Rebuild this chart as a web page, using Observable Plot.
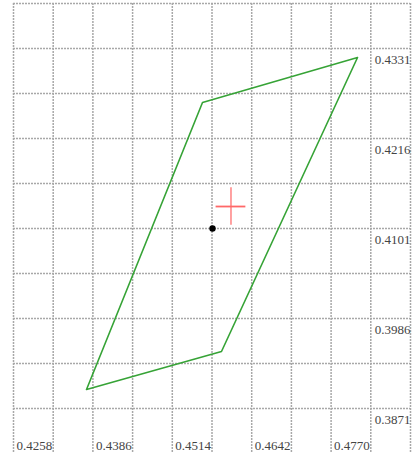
<!DOCTYPE html>
<html>
<head>
<meta charset="utf-8">
<script src="https://cdn.jsdelivr.net/npm/d3@7"></script>
<script src="https://cdn.jsdelivr.net/npm/@observablehq/plot@0.6"></script>
<style>
  html, body { margin: 0; padding: 0; background: #fff; }
  #chart svg { display: block; }
  #chart svg text { font-family: "Liberation Serif", "DejaVu Serif", serif !important; }
</style>
</head>
<body>
<div id="chart"></div>
<script>
// Polygon (closed ring) vertices
const polyX = [0.43757, 0.45933, 0.48126, 0.45627, 0.43757];
const polyY = [0.38953, 0.39438, 0.43195, 0.42620, 0.38953];
// Black point
const pointX = [0.45788];
const pointY = [0.41010];
// Red cross (center ± error)
const crossX = [0.46086];
const crossY = [0.41291];
const crossErrX = [0.0024];
const crossErrY = [0.0024];
// Grid and tick labels
const xGrid = [0.4258, 0.4322, 0.4386, 0.4450, 0.4514, 0.4578, 0.4642, 0.4706, 0.4770, 0.4834, 0.4898];
const yGrid = [0.38135, 0.3871, 0.39285, 0.3986, 0.40435, 0.4101, 0.41585, 0.4216, 0.42735, 0.4331, 0.43885];
const xTickValues = [0.4258, 0.4386, 0.4514, 0.4642, 0.4770];
const xTickLabels = ["0.4258", "0.4386", "0.4514", "0.4642", "0.4770"];
const yTickValues = [0.3871, 0.3986, 0.4101, 0.4216, 0.4331];
const yTickLabels = ["0.3871", "0.3986", "0.4101", "0.4216", "0.4331"];

const poly = polyX.map((x, i) => ({x, y: polyY[i]}));
const pts = pointX.map((x, i) => ({x, y: pointY[i]}));
const cross = crossX.map((x, i) => ({x, y: crossY[i], ex: crossErrX[i], ey: crossErrY[i]}));
const xt = xTickValues.map((v, i) => ({v, label: xTickLabels[i]}));
const yt = yTickValues.map((v, i) => ({v, label: yTickLabels[i]}));

const gridStyle = {stroke: "#a8a8a8", strokeWidth: 1.5, strokeDasharray: "2,1"};
const serif = "Liberation Serif";

const chart = Plot.plot({
  width: 413,
  height: 452,
  marginLeft: 13,
  marginRight: 3,
  marginTop: 3,
  marginBottom: 0,
  style: {fontFamily: "'Liberation Serif', 'DejaVu Serif', serif", background: "#fff"},
  x: {domain: [0.4258, 0.4898], axis: null},
  y: {domain: [0.381478, 0.43885], axis: null},
  marks: [
    Plot.ruleX(xGrid, {...gridStyle}),
    Plot.ruleY(yGrid, {...gridStyle}),
    Plot.text(xt, {x: "v", text: "label", frameAnchor: "bottom", textAnchor: "start", lineAnchor: "bottom", dx: 3, dy: -3, fontSize: 13, fontFamily: serif, fill: "#444"}),
    Plot.text(yt, {y: "v", text: "label", frameAnchor: "right", textAnchor: "end", dx: 0, dy: 11, fontSize: 13, fontFamily: serif, fill: "#444"}),
    Plot.line(poly, {x: "x", y: "y", stroke: "#36a336", strokeWidth: 1.6}),
    Plot.ruleY(cross, {y: "y", x1: d => d.x - d.ex, x2: d => d.x + d.ex, stroke: "#ff4d4d", strokeWidth: 1.8, strokeOpacity: 0.85}),
    Plot.ruleX(cross, {x: "x", y1: d => d.y - d.ey, y2: d => d.y + d.ey, stroke: "#ff6b6b", strokeWidth: 1.8, strokeOpacity: 0.7}),
    Plot.dot(pts, {x: "x", y: "y", r: 3.2, fill: "#000", stroke: "none"})
  ]
});
document.getElementById("chart").appendChild(chart);
</script>
</body>
</html>
